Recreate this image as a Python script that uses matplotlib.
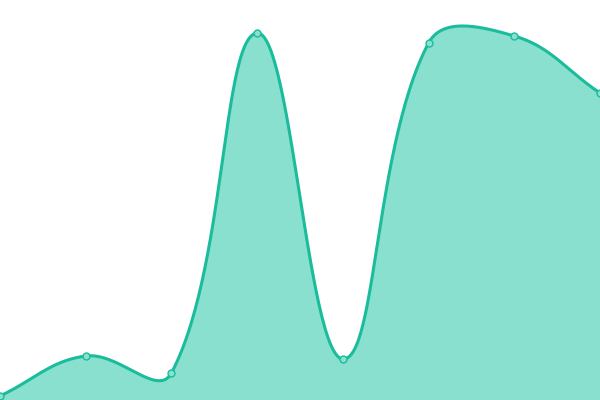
import numpy as np
import matplotlib
matplotlib.use("Agg")
import matplotlib.pyplot as plt

# values (0..400 scale)
labels = ["A", "B", "C", "D", "E", "F", "G", "H"]
values = [4, 44, 27, 367, 41, 357, 364, 307]

line_color = "#1abc9c"
fill_color = "#8ae0cf"

W, H = 600, 400
fig = plt.figure(figsize=(W / 100, H / 100), dpi=100)
ax = fig.add_axes([0, 0, 1, 1])

xs = np.arange(len(values), dtype=float)
ys = np.array(values, dtype=float)
ymax = 400.0

# Chart.js style spline (tension 0.4), distances in pixel units
sx = W / (len(values) - 1)
sy = H / ymax
px, py = xs * sx, ys * sy
tension = 0.4
cp_prev, cp_next = [], []
for i in range(len(px)):
    pi = max(i - 1, 0)
    ni = min(i + 1, len(px) - 1)
    d01 = np.hypot(px[i] - px[pi], py[i] - py[pi])
    d12 = np.hypot(px[ni] - px[i], py[ni] - py[i])
    tot = d01 + d12
    s01 = d01 / tot if tot else 0
    s12 = d12 / tot if tot else 0
    fa, fb = tension * s01, tension * s12
    dx, dy = px[ni] - px[pi], py[ni] - py[pi]
    cp_prev.append((px[i] - fa * dx, py[i] - fa * dy))
    cp_next.append((px[i] + fb * dx, py[i] + fb * dy))

curve_x, curve_y = [], []
t = np.linspace(0, 1, 60)
for i in range(len(px) - 1):
    p0 = np.array([px[i], py[i]])
    p1 = np.array(cp_next[i])
    p2 = np.array(cp_prev[i + 1])
    p3 = np.array([px[i + 1], py[i + 1]])
    pts = ((1 - t) ** 3)[:, None] * p0 + (3 * (1 - t) ** 2 * t)[:, None] * p1 \
        + (3 * (1 - t) * t ** 2)[:, None] * p2 + (t ** 3)[:, None] * p3
    curve_x.extend(pts[:, 0] / sx)
    curve_y.extend(pts[:, 1] / sy)

ax.fill_between(curve_x, 0, curve_y, color=fill_color, linewidth=0)
ax.plot(curve_x, curve_y, color=line_color, linewidth=2.2, solid_capstyle="round")
ax.plot(xs, ys, "o", markersize=5, markerfacecolor=fill_color,
        markeredgecolor=line_color, markeredgewidth=1, clip_on=False)

ax.set_xlim(0, len(values) - 1)
ax.set_ylim(0, ymax)
ax.axis("off")

fig.savefig("out.png", dpi=100)
